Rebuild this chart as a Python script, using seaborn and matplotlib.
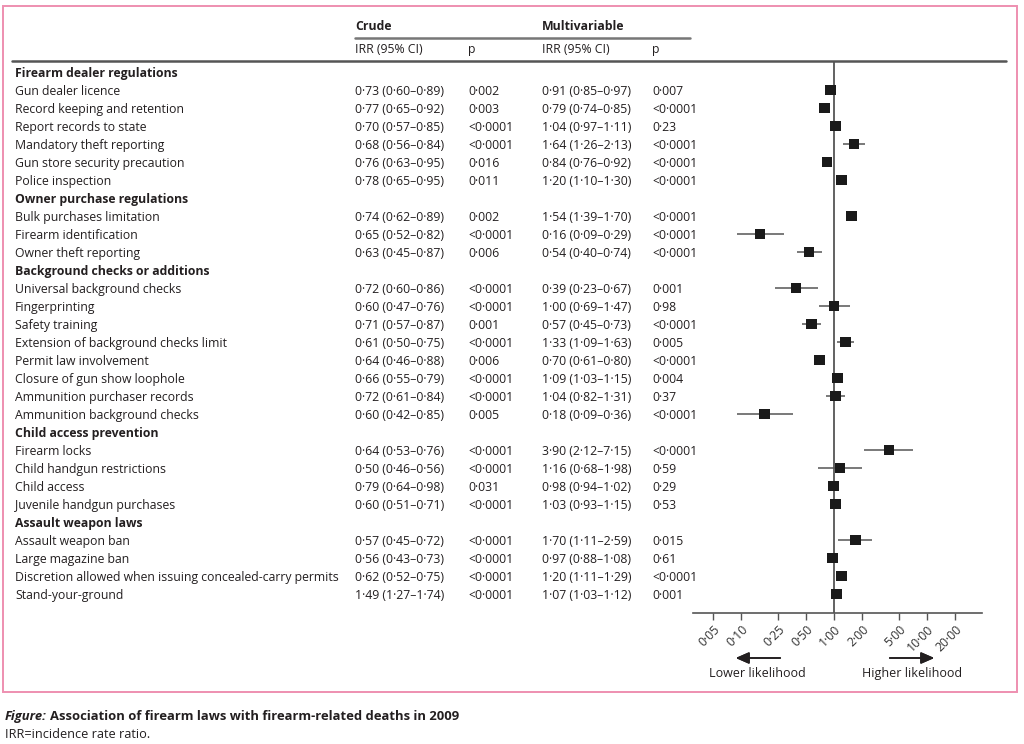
import numpy as np
import pandas as pd
import seaborn as sns
import matplotlib
matplotlib.use("Agg")
from matplotlib import pyplot as plt
from matplotlib.patches import Rectangle
from matplotlib.lines import Line2D
from matplotlib.transforms import blended_transform_factory

# table data
groups = ["Firearm dealer regulations", "Owner purchase regulations",
          "Background checks or additions", "Child access prevention",
          "Assault weapon laws"]
group_sizes = [6, 3, 8, 4, 4]
laws = ["Gun dealer licence", "Record keeping and retention", "Report records to state",
        "Mandatory theft reporting", "Gun store security precaution", "Police inspection",
        "Bulk purchases limitation", "Firearm identification", "Owner theft reporting",
        "Universal background checks", "Fingerprinting", "Safety training",
        "Extension of background checks limit", "Permit law involvement",
        "Closure of gun show loophole", "Ammunition purchaser records",
        "Ammunition background checks",
        "Firearm locks", "Child handgun restrictions", "Child access",
        "Juvenile handgun purchases",
        "Assault weapon ban", "Large magazine ban",
        "Discretion allowed when issuing concealed-carry permits", "Stand-your-ground"]
crude_irr = [0.73, 0.77, 0.70, 0.68, 0.76, 0.78, 0.74, 0.65, 0.63, 0.72, 0.60, 0.71, 0.61,
             0.64, 0.66, 0.72, 0.60, 0.64, 0.50, 0.79, 0.60, 0.57, 0.56, 0.62, 1.49]
crude_lo = [0.60, 0.65, 0.57, 0.56, 0.63, 0.65, 0.62, 0.52, 0.45, 0.60, 0.47, 0.57, 0.50,
            0.46, 0.55, 0.61, 0.42, 0.53, 0.46, 0.64, 0.51, 0.45, 0.43, 0.52, 1.27]
crude_hi = [0.89, 0.92, 0.85, 0.84, 0.95, 0.95, 0.89, 0.82, 0.87, 0.86, 0.76, 0.87, 0.75,
            0.88, 0.79, 0.84, 0.85, 0.76, 0.56, 0.98, 0.71, 0.72, 0.73, 0.75, 1.74]
crude_p = ["0·002", "0·003", "<0·0001", "<0·0001", "0·016", "0·011", "0·002", "<0·0001",
           "0·006", "<0·0001", "<0·0001", "0·001", "<0·0001", "0·006", "<0·0001", "<0·0001",
           "0·005", "<0·0001", "<0·0001", "0·031", "<0·0001", "<0·0001", "<0·0001",
           "<0·0001", "<0·0001"]
multi_irr = [0.91, 0.79, 1.04, 1.64, 0.84, 1.20, 1.54, 0.16, 0.54, 0.39, 1.00, 0.57, 1.33,
             0.70, 1.09, 1.04, 0.18, 3.90, 1.16, 0.98, 1.03, 1.70, 0.97, 1.20, 1.07]
multi_lo = [0.85, 0.74, 0.97, 1.26, 0.76, 1.10, 1.39, 0.09, 0.40, 0.23, 0.69, 0.45, 1.09,
            0.61, 1.03, 0.82, 0.09, 2.12, 0.68, 0.94, 0.93, 1.11, 0.88, 1.11, 1.03]
multi_hi = [0.97, 0.85, 1.11, 2.13, 0.92, 1.30, 1.70, 0.29, 0.74, 0.67, 1.47, 0.73, 1.63,
            0.80, 1.15, 1.31, 0.36, 7.15, 1.98, 1.02, 1.15, 2.59, 1.08, 1.29, 1.12]
multi_p = ["0·007", "<0·0001", "0·23", "<0·0001", "<0·0001", "<0·0001", "<0·0001",
           "<0·0001", "<0·0001", "0·001", "0·98", "<0·0001", "0·005", "<0·0001", "0·004",
           "0·37", "<0·0001", "<0·0001", "0·59", "0·29", "0·53", "0·015", "0·61",
           "<0·0001", "0·001"]
tick_values = [0.05, 0.10, 0.25, 0.50, 1.00, 2.00, 5.00, 10.00, 20.00]
tick_labels = ["0·05", "0·10", "0·25", "0·50", "1·00", "2·00", "5·00", "10·00", "20·00"]

sns.set_theme(style="white")
plt.rcParams['font.family'] = ['Open Sans', 'DejaVu Sans']
FS = 8.8
TXT = "#231f20"


def fmt(v):
    return f"{v:.2f}".replace(".", "·")


def ci(e, lo, hi):
    return f"{fmt(e)} ({fmt(lo)}–{fmt(hi)})"


# row positions: group header then its laws
rows = []
r = 0
k = 0
for g, n in zip(groups, group_sizes):
    rows.append(("group", g, r, None))
    r += 1
    for j in range(n):
        rows.append(("law", laws[k], r, k))
        r += 1
        k += 1
law_rows = [row for (kind, _, row, _) in rows if kind == "law"]

df = pd.DataFrame({"law": laws, "row": law_rows, "irr": multi_irr,
                   "lo": multi_lo, "hi": multi_hi})

W, H = 1024, 744
fig = plt.figure(figsize=(W / 100, H / 100), dpi=100)
fig.patch.set_facecolor("white")


def fx(x):
    return x / W


def fy(y):
    return 1 - y / H


# forest plot axes
ax = fig.add_axes([fx(693), fy(613), fx(982) - fx(693), fy(61) - fy(613)])
ax.set_xscale("log")
ax.set_xlim(0.0305, 39)
ax.set_ylim(30.056, -0.611)

ax.hlines(df["row"], df["lo"], df["hi"], color="#555555", lw=1.1, zorder=2)
ax.axvline(1, color="#555555", lw=1.3, zorder=1)
sns.scatterplot(data=df, x="irr", y="row", marker="s", s=60, color="#1a1a1a",
                edgecolor="none", ax=ax, zorder=3, legend=False)

for s in ["top", "right", "left"]:
    ax.spines[s].set_visible(False)
ax.spines["bottom"].set_color("#555555")
ax.spines["bottom"].set_linewidth(1.2)
ax.set_yticks([])
ax.set_xticks(tick_values)
ax.set_xticklabels(tick_labels, rotation=45, ha="right", rotation_mode="anchor",
                   fontsize=8.8, color="#333333")
ax.xaxis.set_minor_locator(matplotlib.ticker.NullLocator())
ax.tick_params(axis="x", direction="out", length=5, width=1, color="#555555",
               bottom=True, pad=2)
ax.set_xlabel("")
ax.set_ylabel("")
ax.patch.set_alpha(0)

# table text
tr = blended_transform_factory(fig.transFigure, ax.transData)
VA = "center_baseline"
for kind, label, row, idx in rows:
    if kind == "group":
        ax.text(fx(15), row, label, transform=tr, va=VA, ha="left",
                fontsize=FS, fontweight="bold", color=TXT, clip_on=False)
    else:
        ax.text(fx(15), row, label, transform=tr, va=VA, ha="left",
                fontsize=FS, color=TXT, clip_on=False)
        ax.text(fx(355), row, ci(crude_irr[idx], crude_lo[idx], crude_hi[idx]),
                transform=tr, va=VA, ha="left", fontsize=FS, color=TXT, clip_on=False)
        ax.text(fx(468), row, crude_p[idx], transform=tr, va=VA, ha="left",
                fontsize=FS, color=TXT, clip_on=False)
        ax.text(fx(542), row, ci(multi_irr[idx], multi_lo[idx], multi_hi[idx]),
                transform=tr, va=VA, ha="left", fontsize=FS, color=TXT, clip_on=False)
        ax.text(fx(652), row, multi_p[idx], transform=tr, va=VA, ha="left",
                fontsize=FS, color=TXT, clip_on=False)

# column headers
fig.text(fx(355), fy(25), "Crude", fontsize=FS, fontweight="bold", color=TXT, va=VA)
fig.text(fx(542), fy(25), "Multivariable", fontsize=FS, fontweight="bold", color=TXT, va=VA)
fig.text(fx(355), fy(48), "IRR (95% CI)", fontsize=FS, color=TXT, va=VA)
fig.text(fx(468), fy(48), "p", fontsize=FS, color=TXT, va=VA)
fig.text(fx(542), fy(48), "IRR (95% CI)", fontsize=FS, color=TXT, va=VA)
fig.text(fx(652), fy(48), "p", fontsize=FS, color=TXT, va=VA)
fig.add_artist(Line2D([fx(355), fx(690)], [fy(38), fy(38)], color="#777777", lw=1.8))
fig.add_artist(Line2D([fx(12), fx(1006)], [fy(61), fy(61)], color="#555555", lw=1.8))

# likelihood arrows
arrow = dict(arrowstyle="-|>,head_length=0.8,head_width=0.35", color="#231f20", lw=1.2,
             mutation_scale=10)
fig.add_artist(plt.annotate("", xy=(fx(733), fy(658)), xytext=(fx(783), fy(658)),
                            xycoords="figure fraction", textcoords="figure fraction",
                            arrowprops=arrow))
fig.add_artist(plt.annotate("", xy=(fx(937), fy(658)), xytext=(fx(887), fy(658)),
                            xycoords="figure fraction", textcoords="figure fraction",
                            arrowprops=arrow))
fig.text(fx(757), fy(672), "Lower likelihood", fontsize=9, color=TXT, ha="center", va=VA)
fig.text(fx(912), fy(672), "Higher likelihood", fontsize=9, color=TXT, ha="center", va=VA)

# pink frame
fig.add_artist(Rectangle((fx(3), fy(692)), fx(1017) - fx(3), fy(6) - fy(692),
                         transform=fig.transFigure, fill=False, edgecolor="#ee8fb0", lw=1.4))

# caption
t1 = fig.text(fx(5), fy(715), "Figure:", fontsize=9.4, fontweight="bold", style="italic",
              color=TXT, va=VA)
fig.canvas.draw()
bb = t1.get_window_extent()
fig.text(bb.x1 / W + fx(3), fy(715), "Association of firearm laws with firearm-related deaths in 2009",
         fontsize=9.4, fontweight="bold", color=TXT, va=VA)
fig.text(fx(5), fy(733), "IRR=incidence rate ratio.", fontsize=9.2, color=TXT, va=VA)

fig.savefig("out.png", dpi=100, facecolor="white")
